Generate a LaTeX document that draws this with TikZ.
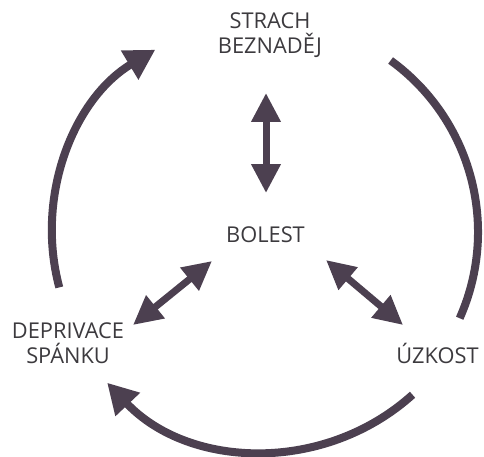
\documentclass[tikz,border=0pt]{standalone}
\usepackage{fontspec}
\setmainfont{Open Sans}
\usetikzlibrary{arrows.meta}
\definecolor{arr}{RGB}{76,64,80}
\definecolor{txt}{RGB}{60,58,62}
\tikzset{
  lbl/.style={inner sep=0pt, align=center, text=txt, font=\fontsize{21.8}{25}\selectfont},
  cyc/.style={draw=arr, line width=8pt},
  cyctip/.style={cyc, -{Triangle[length=30pt,width=32pt]}},
  dbl/.style={draw=arr, line width=7pt, {Triangle[length=29pt,width=28pt]}-{Triangle[length=29pt,width=28pt]}}
}
\begin{document}
\begin{tikzpicture}[x=1pt,y=1pt]
\useasboundingbox (0,0) rectangle (484,456);
\coordinate (C) at (266,224);
% text nodes
\node[lbl] (bol) at (265.5,221.5) {BOLEST};
\node[lbl, anchor=north] (str) at (270,443) {STRACH\\BEZNADĚJ};
\node[lbl, anchor=north] (dep) at (68,133) {DEPRIVACE\\SPÁNKU};
\node[lbl, anchor=base] (uzk) at (437.5,93) {ÚZKOST};
% tip coordinates of the two-headed arrows
\coordinate (v1) at (266,363);
\coordinate (v2) at (266,263);
\coordinate (l1) at (133,131);
\coordinate (l2) at (212,195);
\coordinate (r1) at (326,196);
\coordinate (r2) at (403,131);
\draw[dbl] (v1) -- (v2);
\draw[dbl] (l1) -- (l2);
\draw[dbl] (r1) -- (r2);
% cycle arcs
\coordinate (a1) at ([shift={(54:212)}]C);
\coordinate (b1) at ([shift={(-48:219)}]C);
\coordinate (c1) at ([shift={(195:214)}]C);
\draw[cyc] (a1) arc[start angle=54, end angle=-24, radius=212];
\draw[cyctip] (b1) arc[start angle=-48, end angle=-136.5, radius=219];
\draw[cyctip] (c1) arc[start angle=195, end angle=121, radius=213];
\end{tikzpicture}
\end{document}
